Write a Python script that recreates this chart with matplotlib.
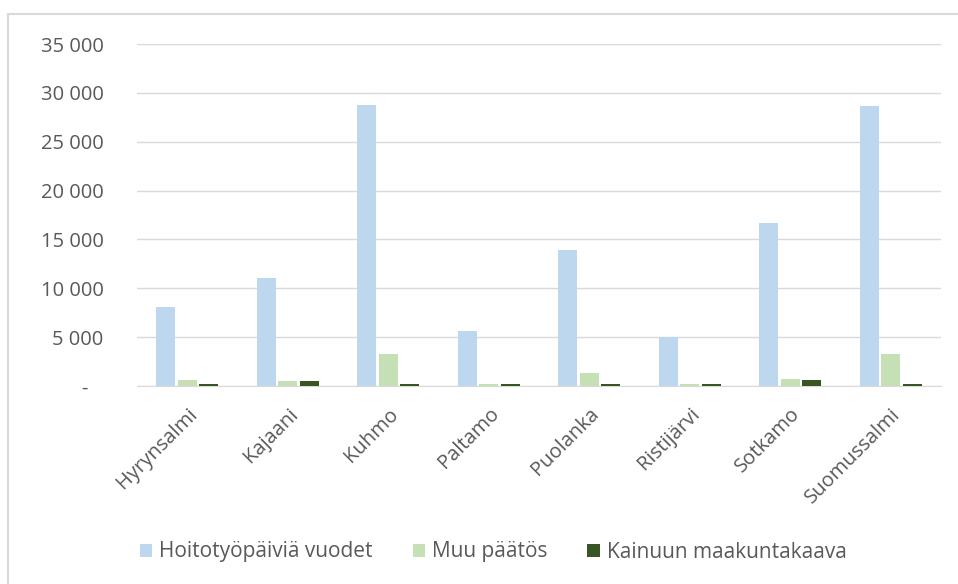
import numpy as np
import matplotlib.pyplot as plt
from matplotlib.lines import Line2D

# Data
kunnat = ['Hyrynsalmi', 'Kajaani', 'Kuhmo', 'Paltamo', 'Puolanka', 'Ristijärvi', 'Sotkamo', 'Suomussalmi']
hoitotyopaivia = [8100, 11100, 28800, 5600, 13900, 5000, 16700, 28700]
muu_paatos = [600, 500, 3300, 250, 1300, 200, 750, 3300]
maakuntakaava = [250, 500, 250, 250, 250, 250, 600, 250]

series_names = ['Hoitotyöpäiviä vuodet', 'Muu päätös', 'Kainuun maakuntakaava']
colors = ['#BDD7EE', '#C5E0B4', '#375623']
yticks = [0, 5000, 10000, 15000, 20000, 25000, 30000, 35000]

plt.rcParams['font.family'] = ['Open Sans', 'DejaVu Sans']

fig = plt.figure(figsize=(9.58, 5.84), dpi=100)
W, H = 958, 584
ax = fig.add_axes([137 / W, 1 - 386 / H, (941 - 137) / W, (386 - 44) / H])

x = np.arange(len(kunnat))
bw = 0.19
step = 0.215
for i, (vals, c, name) in enumerate(zip([hoitotyopaivia, muu_paatos, maakuntakaava], colors, series_names)):
    ax.bar(x + (i - 1) * step, vals, width=bw, color=c, label=name, zorder=3)

ax.set_xlim(-0.5, len(kunnat) - 0.5)
ax.set_ylim(0, 35000)
ax.set_yticks(yticks)
ax.set_yticklabels(['-   ' if v == 0 else f'{v:,}'.replace(',', ' ') for v in yticks],
                   fontsize=14.5, color='#595959')
ax.set_xticks(x)
ax.set_xticklabels(kunnat, rotation=45, ha='right', rotation_mode='anchor',
                   fontsize=14.5, color='#595959')
ax.tick_params(axis='both', length=0)
ax.tick_params(axis='y', pad=24)
ax.tick_params(axis='x', pad=13)
ax.grid(axis='y', color='#d9d9d9', linewidth=1, zorder=0)
for s in ['top', 'right', 'left']:
    ax.spines[s].set_visible(False)
ax.spines['bottom'].set_color('#d9d9d9')

# outer chart border (top and left visible)
fig.add_artist(Line2D([8 / W, 8 / W], [0, 1 - 14 / H], color='#d9d9d9', lw=1.5))
fig.add_artist(Line2D([8 / W, 1], [1 - 14 / H, 1 - 14 / H], color='#d9d9d9', lw=1.5))

fig.legend(loc='center', bbox_to_anchor=(0.515, 1 - 552 / H), ncol=3, frameon=False,
           fontsize=15, labelcolor='#595959', handlelength=0.6, handleheight=0.6,
           handletextpad=0.35, columnspacing=1.9)

fig.savefig('out.png', dpi=100)
